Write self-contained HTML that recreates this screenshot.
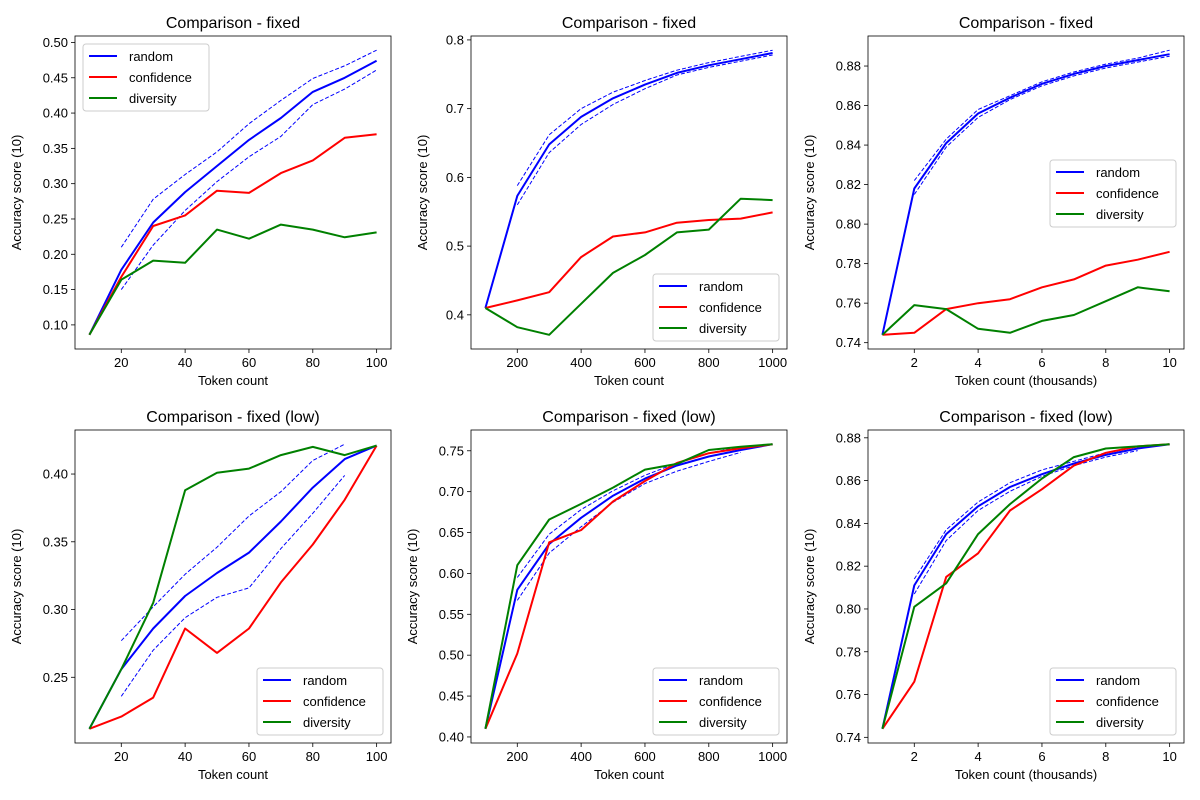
<!DOCTYPE html>
<html><head><meta charset="utf-8"><style>
body{margin:0;background:#fff;}
svg{display:block;font-family:"Liberation Sans","DejaVu Sans",sans-serif;}
</style></head><body>
<svg id="chart" width="1200" height="800" viewBox="0 0 1200 800" xmlns="http://www.w3.org/2000/svg"></svg>
<script>
const xSmall=[10,20,30,40,50,60,70,80,90,100];
const xMid=[100,200,300,400,500,600,700,800,900,1000];
const xBig=[1,2,3,4,5,6,7,8,9,10];

const p1Random=[0.086,0.178,0.245,0.288,0.325,0.362,0.393,0.430,0.450,0.474];
const p1Upper=[null,0.210,0.278,0.313,0.345,0.385,0.418,0.449,0.467,0.489];
const p1Lower=[null,0.150,0.213,0.262,0.303,0.338,0.367,0.412,0.434,0.461];
const p1Conf=[0.086,0.168,0.240,0.255,0.290,0.287,0.315,0.333,0.365,0.370];
const p1Div=[0.086,0.164,0.191,0.188,0.235,0.222,0.242,0.235,0.224,0.231];

const p2Random=[0.41,0.573,0.648,0.688,0.715,0.735,0.752,0.763,0.772,0.781];
const p2Upper=[null,0.588,0.662,0.700,0.724,0.741,0.756,0.767,0.776,0.785];
const p2Lower=[null,0.560,0.636,0.677,0.706,0.729,0.749,0.760,0.769,0.778];
const p2Conf=[0.41,0.421,0.433,0.484,0.514,0.520,0.534,0.538,0.540,0.549];
const p2Div=[0.41,0.382,0.371,0.416,0.461,0.487,0.520,0.524,0.569,0.567];

const p3Random=[0.744,0.818,0.841,0.856,0.864,0.871,0.876,0.880,0.883,0.886];
const p3Upper=[null,0.822,0.843,0.858,0.865,0.872,0.877,0.881,0.884,0.888];
const p3Lower=[null,0.815,0.839,0.854,0.863,0.870,0.875,0.879,0.882,0.885];
const p3Conf=[0.744,0.745,0.757,0.760,0.762,0.768,0.772,0.779,0.782,0.786];
const p3Div=[0.744,0.759,0.757,0.747,0.745,0.751,0.754,0.761,0.768,0.766];

const p4Random=[0.212,0.256,0.286,0.310,0.327,0.342,0.365,0.390,0.411,0.421];
const p4Upper=[null,0.277,0.302,0.326,0.346,0.369,0.387,0.410,0.422,null];
const p4Lower=[null,0.236,0.270,0.294,0.309,0.316,0.345,0.371,0.399,null];
const p4Conf=[0.212,0.221,0.235,0.286,0.268,0.286,0.320,0.348,0.381,0.421];
const p4Div=[0.212,0.256,0.305,0.388,0.401,0.404,0.414,0.420,0.414,0.421];

const p5Random=[0.41,0.580,0.636,0.668,0.695,0.716,0.732,0.743,0.751,0.758];
const p5Upper=[null,0.595,0.648,0.678,0.701,0.720,0.735,0.747,0.755,null];
const p5Lower=[null,0.567,0.625,0.657,0.687,0.710,0.725,0.737,0.748,null];
const p5Conf=[0.41,0.502,0.638,0.653,0.688,0.713,0.735,0.747,0.753,0.758];
const p5Div=[0.41,0.610,0.666,0.685,0.705,0.727,0.734,0.751,0.755,0.758];

const p6Random=[0.744,0.811,0.835,0.848,0.857,0.863,0.868,0.872,0.875,0.877];
const p6Upper=[null,0.814,0.837,0.850,0.859,0.865,0.869,0.873,0.876,null];
const p6Lower=[null,0.807,0.832,0.846,0.855,0.862,0.867,0.871,0.874,null];
const p6Conf=[0.744,0.766,0.815,0.826,0.846,0.856,0.867,0.873,0.876,0.877];
const p6Div=[0.744,0.801,0.812,0.835,0.849,0.861,0.871,0.875,0.876,0.877];

const xTicksSmall=[20,40,60,80,100];
const xTicksMid=[200,400,600,800,1000];
const xTicksBig=[2,4,6,8,10];
const yTicks1=[0.10,0.15,0.20,0.25,0.30,0.35,0.40,0.45,0.50];
const yTicks2=[0.4,0.5,0.6,0.7,0.8];
const yTicks3=[0.74,0.76,0.78,0.80,0.82,0.84,0.86,0.88];
const yTicks4=[0.25,0.30,0.35,0.40];
const yTicks5=[0.40,0.45,0.50,0.55,0.60,0.65,0.70,0.75];
const yTicks6=[0.74,0.76,0.78,0.80,0.82,0.84,0.86,0.88];

const NS="http://www.w3.org/2000/svg";
const svg=document.getElementById('chart');
function mk(tag,attrs,parent,text){const e=document.createElementNS(NS,tag);for(const k in attrs)e.setAttribute(k,attrs[k]);if(text!==undefined)e.textContent=text;(parent||svg).appendChild(e);return e;}

const panels=[
 {x:xSmall,r:p1Random,u:p1Upper,l:p1Lower,c:p1Conf,d:p1Div,xt:xTicksSmall,yt:yTicks1,yd:2,title:"Comparison - fixed",xl:"Token count",L:75,T:36,leg:"ul",yo:54},
 {x:xMid,r:p2Random,u:p2Upper,l:p2Lower,c:p2Conf,d:p2Div,xt:xTicksMid,yt:yTicks2,yd:1,title:"Comparison - fixed",xl:"Token count",L:471,T:36,leg:"lr",yo:44},
 {x:xBig,r:p3Random,u:p3Upper,l:p3Lower,c:p3Conf,d:p3Div,xt:xTicksBig,yt:yTicks3,yd:2,title:"Comparison - fixed",xl:"Token count (thousands)",L:868,T:36,leg:"cr",yo:54},
 {x:xSmall,r:p4Random,u:p4Upper,l:p4Lower,c:p4Conf,d:p4Div,xt:xTicksSmall,yt:yTicks4,yd:2,title:"Comparison - fixed (low)",xl:"Token count",L:75,T:430,leg:"lr",yo:54},
 {x:xMid,r:p5Random,u:p5Upper,l:p5Lower,c:p5Conf,d:p5Div,xt:xTicksMid,yt:yTicks5,yd:2,title:"Comparison - fixed (low)",xl:"Token count",L:471,T:430,leg:"lr",yo:54},
 {x:xBig,r:p6Random,u:p6Upper,l:p6Lower,c:p6Conf,d:p6Div,xt:xTicksBig,yt:yTicks6,yd:2,title:"Comparison - fixed (low)",xl:"Token count (thousands)",L:868,T:430,leg:"lr",yo:54}
];
const W=316,H=313;
panels.forEach((p,i)=>{
 const g=mk('g',{});
 
 
 const all=[].concat(p.r,p.u,p.l,p.c,p.d).filter(v=>v!==null);
 let ymin=Math.min(...all),ymax=Math.max(...all),yr=ymax-ymin;ymin-=yr*0.05;ymax+=yr*0.05;
 let xmin=Math.min(...p.x),xmax=Math.max(...p.x),xr=xmax-xmin;xmin-=xr*0.05;xmax+=xr*0.05;
 const sx=v=>p.L+(v-xmin)/(xmax-xmin)*W;
 const sy=v=>p.T+H-(v-ymin)/(ymax-ymin)*H;
 const t=mk('text',{x:p.L+W/2,y:p.T-8,'text-anchor':'middle','font-size':16,fill:'#000'},g,p.title);
 
 p.xt.forEach(v=>{const X=sx(v);mk('line',{x1:X,x2:X,y1:p.T+H,y2:p.T+H+4,stroke:'#000','stroke-width':0.8},g);
  const tt=mk('text',{x:X,y:p.T+H+18,'text-anchor':'middle','font-size':13},g,String(v));});
 p.yt.forEach(v=>{const Y=sy(v);mk('line',{x1:p.L-4,x2:p.L,y1:Y,y2:Y,stroke:'#000','stroke-width':0.8},g);
  const tt=mk('text',{x:p.L-7,y:Y+4.5,'text-anchor':'end','font-size':13},g,v.toFixed(p.yd));});
 const xl=mk('text',{x:p.L+W/2,y:p.T+H+36,'text-anchor':'middle','font-size':13},g,p.xl);
 
 const yl=mk('text',{x:0,y:0,'text-anchor':'middle','font-size':13,transform:`translate(${p.L-p.yo},${p.T+H/2}) rotate(-90)`},g,'Accuracy score (10)');
 
 function line(vals,color,w,dash,name){
  let d='';let pen=false;
  vals.forEach((v,j)=>{if(v===null){pen=false;return;}d+=(pen?'L':'M')+sx(p.x[j]).toFixed(1)+','+sy(v).toFixed(1);pen=true;});
  const e=mk('path',{d:d,fill:'none',stroke:color,'stroke-width':w,'stroke-linejoin':'round'},g);
  if(dash)e.setAttribute('stroke-dasharray',dash);
  
 }
 line(p.u,'#0000ff',1,'4,2','random-upper-band');
 line(p.l,'#0000ff',1,'4,2','random-lower-band');
 line(p.r,'#0000ff',2,null,'random-line');
 line(p.c,'#ff0000',2,null,'confidence-line');
 line(p.d,'#008000',2,null,'diversity-line');
 mk('rect',{x:p.L,y:p.T,width:W,height:H,fill:'none',stroke:'#000','stroke-width':0.8},g);
 const lw=126,lh=67;let lx,ly;
 if(p.leg==='ul'){lx=p.L+8;ly=p.T+8;}else if(p.leg==='lr'){lx=p.L+W-8-lw;ly=p.T+H-8-lh;}else{lx=p.L+W-8-lw;ly=p.T+H/2-lh/2+37-36;}
 const lg=mk('g',{},g);
 mk('rect',{x:lx,y:ly,width:lw,height:lh,rx:3,fill:'#fff','fill-opacity':0.8,stroke:'#ccc','stroke-width':1},lg);
 [['random','#0000ff'],['confidence','#ff0000'],['diversity','#008000']].forEach((s,k)=>{
  const yy=ly+12+k*21;
  mk('line',{x1:lx+6,x2:lx+34,y1:yy,y2:yy,stroke:s[1],'stroke-width':2},lg);
  const te=mk('text',{x:lx+46,y:yy+5,'font-size':13},lg,s[0]);
  
 });
});
</script>
</body></html>
